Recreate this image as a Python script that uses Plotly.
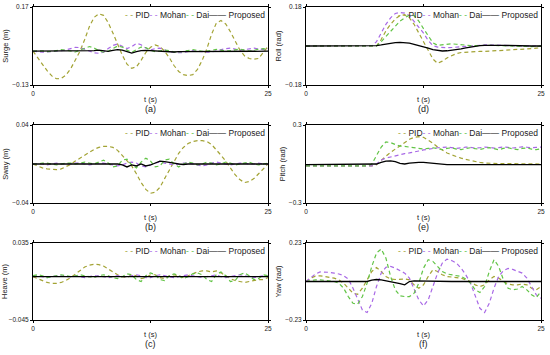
import plotly.graph_objects as go

TIME = [0, 0.5, 1, 1.5, 2, 2.5, 3, 3.5, 4, 4.5, 5, 5.5, 6, 6.5, 7, 7.5, 8, 8.5, 9, 9.5,
        10, 10.5, 11, 11.5, 12, 12.5, 13, 13.5, 14, 14.5, 15, 15.5, 16, 16.5, 17, 17.5,
        18, 18.5, 19, 19.5, 20, 20.5, 21, 21.5, 22, 22.5, 23, 23.5, 24, 24.5, 25]

SERIES = ["PID", "Mohan", "Dai", "Proposed"]

# (a) Surge (m)
surge_pid = [0.000, -0.025, -0.050, -0.075, -0.095, -0.106, -0.105, -0.092, -0.068, -0.035,
             0.000, 0.045, 0.095, 0.130, 0.144, 0.138, 0.110, 0.070, 0.025, -0.015,
             -0.050, -0.066, -0.060, -0.035, -0.005, 0.015, 0.024, 0.018, 0.000, -0.025,
             -0.055, -0.078, -0.090, -0.094, -0.090, -0.070, -0.035, 0.010, 0.065, 0.108,
             0.118, 0.105, 0.075, 0.040, 0.005, -0.018, -0.028, -0.031, -0.028, -0.005, 0.018]
surge_mohan = [0.000, -0.003, -0.004, -0.003, -0.002, 0.000, 0.002, 0.005, 0.010, 0.015,
               0.014, 0.008, 0.000, -0.006, -0.008, -0.004, 0.010, 0.022, 0.028, 0.020,
               0.010, 0.018, 0.030, 0.025, 0.012, 0.005, 0.010, 0.012, 0.006, -0.002,
               -0.004, -0.006, -0.005, -0.002, 0.002, 0.000, -0.002, -0.004, -0.003, 0.002,
               0.006, 0.010, 0.012, 0.008, 0.004, 0.006, 0.010, 0.012, 0.009, 0.006, 0.010]
surge_dai = [0.000, 0.002, 0.001, -0.002, -0.001, 0.003, 0.006, 0.004, 0.000, -0.003,
             0.004, 0.012, 0.018, 0.012, 0.002, -0.004, 0.000, 0.010, 0.020, 0.016,
             0.004, -0.004, 0.006, 0.016, 0.014, 0.004, -0.002, 0.000, 0.004, 0.002,
             -0.003, -0.004, 0.000, 0.004, 0.006, 0.003, -0.001, 0.000, 0.004, 0.007,
             0.004, 0.000, 0.002, 0.006, 0.008, 0.004, 0.000, 0.003, 0.008, 0.010, 0.006]
surge_prop = [0.000, 0.000, 0.000, 0.000, 0.000, 0.000, 0.000, 0.000, 0.000, 0.000,
              0.000, 0.000, 0.000, 0.002, 0.004, 0.002, -0.001, 0.003, 0.006, 0.004,
              -0.003, -0.007, -0.002, 0.002, 0.003, 0.002, 0.001, -0.001, -0.002, -0.003,
              -0.003, -0.002, -0.002, -0.001, 0.000, 0.000, 0.000, 0.000, 0.000, 0.000,
              0.000, 0.000, 0.000, 0.000, 0.000, 0.000, 0.000, 0.000, 0.000, 0.000, 0.000]

# (b) Sway (m)
sway_pid = [0.000, -0.002, -0.004, -0.005, -0.0057, -0.0058, -0.005, -0.003, -0.0005, 0.003,
            0.006, 0.009, 0.012, 0.015, 0.017, 0.018, 0.0182, 0.017, 0.014, 0.009,
            0.004, -0.002, -0.010, -0.019, -0.026, -0.030, -0.029, -0.024, -0.015, -0.006,
            0.003, 0.011, 0.017, 0.021, 0.023, 0.024, 0.024, 0.023, 0.020, 0.015,
            0.009, 0.003, -0.004, -0.011, -0.016, -0.019, -0.018, -0.015, -0.010, -0.005, 0.000]
sway_mohan = [0.000, 0.000, 0.000, -0.001, 0.000, 0.001, 0.000, 0.000, 0.000, 0.001,
              0.001, 0.000, -0.001, 0.000, 0.001, 0.001, 0.000, -0.001, -0.002, -0.001,
              0.001, 0.002, 0.001, -0.002, -0.003, -0.001, 0.001, 0.002, 0.001, 0.000,
              -0.001, 0.000, 0.001, 0.001, 0.000, -0.001, -0.002, -0.001, 0.001, 0.002,
              0.001, 0.000, -0.001, 0.000, 0.001, 0.001, 0.000, 0.000, 0.001, 0.000, 0.000]
sway_dai = [0.000, 0.000, 0.001, 0.001, 0.000, -0.001, 0.000, 0.001, 0.001, 0.000,
            0.001, 0.002, 0.001, 0.000, 0.002, 0.004, 0.001, -0.003, -0.002, 0.004,
            0.005, -0.001, -0.004, 0.002, 0.006, 0.003, -0.003, -0.002, 0.004, 0.005,
            0.000, -0.003, 0.000, 0.002, 0.001, -0.001, 0.000, 0.002, 0.001, -0.001,
            0.000, 0.002, 0.001, -0.001, 0.000, 0.001, 0.002, 0.000, -0.001, 0.000, 0.001]
sway_prop = [0.000, 0.000, 0.000, 0.000, 0.000, 0.000, 0.000, 0.000, 0.000, 0.000,
             0.000, 0.000, 0.000, 0.000, 0.000, 0.000, 0.000, 0.000, 0.000, -0.001,
             -0.003, -0.001, -0.002, 0.000, -0.002, -0.001, 0.001, 0.003, 0.0025, 0.002,
             0.001, 0.000, -0.0005, 0.000, 0.000, 0.000, 0.000, 0.000, 0.000, 0.000,
             0.000, 0.000, 0.000, 0.000, 0.000, 0.000, 0.000, 0.000, 0.000, 0.000, 0.000]

# (c) Heave (m)
heave_pid = [0.000, -0.002, -0.004, -0.006, -0.007, -0.007, -0.006, -0.004, -0.001, 0.003,
             0.007, 0.010, 0.012, 0.013, 0.0125, 0.011, 0.008, 0.005, 0.002, 0.000,
             -0.001, 0.002, 0.001, -0.002, -0.001, 0.002, 0.002, -0.001, -0.002, 0.001,
             0.002, 0.001, -0.001, 0.001, 0.003, 0.005, 0.006, 0.006, 0.005, 0.006,
             0.004, 0.001, -0.002, -0.004, -0.005, -0.006, -0.005, -0.004, -0.003, -0.003, -0.001]
heave_mohan = [0.000, 0.001, 0.000, -0.001, 0.000, 0.001, 0.001, 0.000, 0.000, 0.001,
               0.000, -0.001, 0.000, 0.001, 0.001, 0.000, -0.001, 0.000, 0.001, 0.000,
               0.000, 0.001, 0.002, 0.001, -0.001, -0.001, 0.001, 0.002, 0.001, 0.000,
               -0.001, 0.000, 0.001, 0.002, 0.001, 0.000, -0.001, 0.000, 0.001, 0.002,
               0.000, -0.001, 0.000, 0.001, 0.002, 0.001, 0.000, -0.001, 0.000, 0.001, 0.001]
heave_dai = [0.001, 0.002, 0.001, -0.001, 0.000, 0.001, 0.002, 0.001, 0.000, 0.001,
             0.002, 0.001, 0.000, -0.001, 0.001, 0.002, 0.001, -0.001, -0.002, 0.000,
             0.003, 0.002, -0.003, -0.005, 0.001, 0.004, 0.002, -0.003, -0.004, 0.001,
             0.003, 0.001, -0.002, 0.000, 0.003, 0.004, 0.002, -0.003, -0.005, 0.002,
             0.005, 0.001, -0.005, -0.004, 0.002, 0.004, 0.001, -0.003, -0.002, 0.002, 0.001]
heave_prop = [0.000, 0.000, 0.000, 0.000, 0.000, 0.000, 0.000, 0.000, 0.000, 0.000,
              0.000, 0.000, 0.000, 0.000, 0.000, 0.000, 0.000, 0.000, 0.000, 0.000,
              0.000, 0.000, 0.000, 0.000, 0.000, 0.000, 0.000, 0.000, 0.000, 0.000,
              0.000, 0.000, 0.000, 0.000, 0.000, 0.000, 0.000, 0.000, 0.000, 0.000,
              0.000, 0.000, 0.000, 0.000, 0.000, 0.000, 0.000, 0.000, 0.000, 0.000, 0.000]

# (d) Roll (rad)
roll_pid = [0.000, 0.000, 0.000, 0.000, 0.000, 0.000, 0.000, 0.000, 0.000, 0.000,
            0.000, 0.000, 0.000, 0.000, 0.000, 0.000, 0.030, 0.070, 0.100, 0.125,
            0.140, 0.145, 0.130, 0.100, 0.060, 0.020, -0.020, -0.060, -0.080, -0.070,
            -0.055, -0.045, -0.035, -0.030, -0.028, -0.027, -0.026, -0.025, -0.025, -0.024,
            -0.023, -0.022, -0.021, -0.020, -0.019, -0.018, -0.016, -0.014, -0.012, -0.010, -0.008]
roll_mohan = [0.000, 0.000, 0.000, 0.000, 0.000, 0.000, 0.000, 0.000, 0.000, 0.000,
              0.000, 0.000, 0.000, 0.000, 0.000, 0.020, 0.060, 0.100, 0.130, 0.150,
              0.155, 0.152, 0.140, 0.115, 0.090, 0.060, 0.025, 0.002, -0.005, -0.008,
              -0.008, -0.007, -0.005, -0.003, 0.000, 0.002, 0.004, 0.005, 0.005, 0.005,
              0.004, 0.003, 0.002, 0.001, 0.000, 0.000, -0.001, -0.001, 0.000, 0.000, 0.000]
roll_dai = [0.000, 0.000, 0.000, 0.000, 0.000, 0.000, 0.000, 0.000, 0.000, 0.000,
            0.000, 0.000, 0.000, 0.000, 0.000, 0.000, 0.020, 0.045, 0.070, 0.095,
            0.115, 0.130, 0.142, 0.140, 0.115, 0.080, 0.045, 0.015, 0.003, 0.005,
            0.008, 0.010, 0.008, 0.005, 0.003, 0.002, 0.002, 0.003, 0.004, 0.004,
            0.003, 0.002, 0.001, 0.000, -0.002, -0.003, -0.004, -0.004, -0.003, -0.002, -0.001]
roll_prop = [0.000, 0.000, 0.000, 0.000, 0.000, 0.000, 0.000, 0.000, 0.000, 0.000,
             0.000, 0.000, 0.000, 0.000, 0.000, 0.002, 0.005, 0.009, 0.013, 0.016,
             0.017, 0.016, 0.013, 0.008, 0.003, -0.003, -0.010, -0.017, -0.021, -0.023,
             -0.022, -0.020, -0.017, -0.013, -0.009, -0.005, -0.001, 0.002, 0.003, 0.004,
             0.004, 0.003, 0.003, 0.002, 0.002, 0.001, 0.001, 0.001, 0.000, 0.000, 0.000]

# (e) Pitch (rad)
pitch_pid = [-0.015, -0.015, -0.015, -0.015, -0.015, -0.015, -0.015, -0.015, -0.015, -0.015,
             -0.015, -0.015, -0.015, -0.015, -0.015, -0.005, 0.030, 0.060, 0.090, 0.115,
             0.140, 0.165, 0.190, 0.205, 0.210, 0.205, 0.185, 0.160, 0.130, 0.105,
             0.085, 0.070, 0.055, 0.045, 0.035, 0.026, 0.018, 0.012, 0.008, 0.005,
             0.004, 0.003, 0.003, 0.002, 0.002, 0.002, 0.001, 0.001, 0.001, 0.000, 0.000]
pitch_mohan = [-0.015, -0.015, -0.015, -0.015, -0.015, -0.015, -0.015, -0.015, -0.015, -0.015,
               -0.015, -0.015, -0.015, -0.015, -0.015, 0.000, 0.030, 0.045, 0.055, 0.065,
               0.075, 0.080, 0.085, 0.090, 0.100, 0.108, 0.115, 0.120, 0.125, 0.128,
               0.130, 0.126, 0.120, 0.124, 0.130, 0.128, 0.122, 0.125, 0.130, 0.128,
               0.122, 0.126, 0.131, 0.128, 0.123, 0.127, 0.132, 0.129, 0.124, 0.128, 0.130]
pitch_dai = [-0.015, -0.015, -0.015, -0.015, -0.015, -0.015, -0.015, -0.015, -0.015, -0.015,
             -0.015, -0.015, -0.015, -0.015, 0.000, 0.060, 0.130, 0.170, 0.165, 0.150,
             0.138, 0.135, 0.130, 0.125, 0.120, 0.115, 0.120, 0.125, 0.118, 0.110,
             0.120, 0.125, 0.115, 0.110, 0.120, 0.125, 0.118, 0.112, 0.120, 0.126,
             0.118, 0.110, 0.120, 0.125, 0.116, 0.110, 0.120, 0.124, 0.115, 0.110, 0.118]
pitch_prop = [-0.005, -0.005, -0.005, -0.005, -0.005, -0.005, -0.005, -0.005, -0.005, -0.005,
              -0.005, -0.005, -0.005, -0.005, -0.005, 0.000, 0.012, 0.022, 0.024, 0.018,
              0.005, 0.000, 0.006, 0.011, 0.013, 0.012, 0.008, 0.003, -0.001, -0.004,
              -0.005, -0.005, -0.005, -0.005, -0.005, -0.005, -0.005, -0.005, -0.005, -0.005,
              -0.005, -0.005, -0.005, -0.005, -0.005, -0.005, -0.005, -0.005, -0.005, -0.005, -0.005]

# (f) Yaw (rad)
yaw_pid = [0.000, 0.020, 0.032, 0.034, 0.030, 0.025, 0.020, 0.010, -0.010, -0.040,
           -0.070, -0.076, -0.040, 0.010, 0.060, 0.084, 0.060, 0.030, 0.015, 0.012,
           0.014, 0.015, 0.010, -0.020, -0.040, -0.020, 0.030, 0.070, 0.060, 0.040,
           0.030, 0.028, 0.025, 0.020, 0.010, 0.000, -0.020, -0.030, -0.020, 0.010,
           0.030, 0.020, 0.000, -0.015, -0.020, -0.020, -0.015, -0.020, -0.040, -0.050, -0.030]
yaw_mohan = [0.000, 0.020, 0.045, 0.057, 0.058, 0.055, 0.050, 0.045, 0.035, 0.015,
             -0.040, -0.110, -0.170, -0.185, -0.130, -0.030, 0.050, 0.085, 0.090, 0.080,
             0.065, 0.050, 0.020, -0.040, -0.110, -0.146, -0.110, -0.030, 0.050, 0.110,
             0.134, 0.125, 0.110, 0.080, 0.040, -0.010, -0.090, -0.160, -0.185, -0.130,
             -0.040, 0.030, 0.065, 0.078, 0.072, 0.060, 0.050, 0.020, -0.030, -0.080, -0.100]
yaw_dai = [0.000, 0.005, 0.010, 0.010, 0.008, 0.005, 0.000, -0.010, -0.040, -0.090,
           -0.130, -0.135, -0.090, -0.010, 0.090, 0.170, 0.194, 0.140, 0.030, -0.050,
           -0.085, -0.090, -0.090, -0.070, -0.010, 0.080, 0.130, 0.120, 0.090, 0.060,
           0.045, 0.040, 0.035, 0.030, 0.015, -0.010, -0.050, -0.066, -0.030, 0.060,
           0.130, 0.090, 0.010, -0.040, -0.050, -0.045, -0.030, -0.050, -0.080, -0.096, -0.060]
yaw_prop = [0.000, 0.000, 0.000, 0.000, 0.000, 0.000, 0.000, 0.000, 0.000, 0.000,
            0.000, 0.000, 0.000, 0.000, 0.008, 0.012, 0.010, 0.005, 0.000, -0.005,
            -0.012, -0.020, 0.000, 0.004, 0.003, 0.002, 0.001, 0.000, 0.000, 0.000,
            0.000, 0.000, 0.000, 0.000, 0.000, 0.000, 0.000, 0.000, 0.000, 0.000,
            0.000, 0.000, 0.000, 0.000, 0.000, 0.000, 0.000, 0.000, 0.000, 0.000, 0.000]

PANELS = [
    ("Surge (m)", [-0.13, 0.17], ["\u22120.13", "0.17"], "(a)", [surge_pid, surge_mohan, surge_dai, surge_prop]),
    ("Sway (m)", [-0.04, 0.04], ["\u22120.04", "0.04"], "(b)", [sway_pid, sway_mohan, sway_dai, sway_prop]),
    ("Heave (m)", [-0.045, 0.035], ["\u22120.045", "0.035"], "(c)", [heave_pid, heave_mohan, heave_dai, heave_prop]),
    ("Roll (rad)", [-0.18, 0.18], ["\u22120.18", "0.18"], "(d)", [roll_pid, roll_mohan, roll_dai, roll_prop]),
    ("Pitch (rad)", [-0.3, 0.3], ["\u22120.3", "0.3"], "(e)", [pitch_pid, pitch_mohan, pitch_dai, pitch_prop]),
    ("Yaw (rad)", [-0.23, 0.23], ["\u22120.23", "0.23"], "(f)", [yaw_pid, yaw_mohan, yaw_dai, yaw_prop]),
]

COLORS = {"PID": "#a3a334", "Mohan": "#a868e6", "Dai": "#62c446", "Proposed": "#000000"}

W, H = 550, 355
XDOM = [[33 / W, 268 / W], [306 / W, 541 / W]]
YDOM = [[1 - 85 / H, 1 - 7 / H], [1 - 203 / H, 1 - 125 / H], [1 - 320 / H, 1 - 243 / H]]

FONT = "Arial, Liberation Sans, sans-serif"

fig = go.Figure()
annotations = []
layout = {}
for i, (ytitle, yr, ytext, sub, data) in enumerate(PANELS):
    n = i + 1
    col = 0 if i < 3 else 1
    row = i % 3
    xa = "x" if n == 1 else f"x{n}"
    ya = "y" if n == 1 else f"y{n}"
    for name, vals in zip(SERIES, data):
        if name == "Proposed":
            line = dict(color=COLORS[name], width=1.3)
        else:
            line = dict(color=COLORS[name], width=1.2, dash="4px,3px")
        fig.add_trace(go.Scatter(x=TIME, y=vals, mode="lines", name=name, line=line,
                                 xaxis=xa, yaxis=ya, showlegend=False))
    axis_common = dict(showline=True, linecolor="black", linewidth=1, mirror="ticks",
                       showgrid=False, zeroline=False, ticks="outside", ticklen=2,
                       tickcolor="black", automargin=False,
                       tickfont=dict(size=6.5, color="#222", family=FONT))
    layout["xaxis" if n == 1 else f"xaxis{n}"] = dict(
        domain=XDOM[col], anchor=ya, range=[0, 25], tickvals=[0, 12.5, 25],
        ticktext=["0", "", "25"],
        title=dict(text="t (s)", font=dict(size=7.5, family=FONT, color="#222"), standoff=0),
        **axis_common)
    layout["yaxis" if n == 1 else f"yaxis{n}"] = dict(
        domain=YDOM[row], anchor=xa, range=yr, tickvals=yr, ticktext=ytext,
        title=dict(text=ytitle, font=dict(size=7.5, family=FONT, color="#222"), standoff=2),
        **axis_common)
    legend_text = (f"<span style='color:{COLORS['PID']}'>- - </span>PID"
                   f"<span style='color:{COLORS['Mohan']}'>- - </span>Mohan"
                   f"<span style='color:{COLORS['Dai']}'>- - </span>Dai"
                   f"<span style='color:#000'>\u2014\u2014 </span>Proposed")
    annotations.append(dict(text=legend_text, xref=f"{xa} domain", yref=f"{ya} domain",
                            x=0.995, y=0.985, xanchor="right", yanchor="top", showarrow=False,
                            font=dict(size=8.5, family=FONT, color="#222")))
    annotations.append(dict(text=sub, xref=f"{xa} domain", yref=f"{ya} domain",
                            x=0.5, y=-0.22, xanchor="center", yanchor="top", showarrow=False,
                            font=dict(size=9, family=FONT, color="#222")))

fig.update_layout(
    width=W, height=H, margin=dict(l=0, r=0, t=0, b=0),
    paper_bgcolor="white", plot_bgcolor="white",
    annotations=annotations, showlegend=False, **layout)

fig.write_html("out.html", config={"displayModeBar": False},
               post_script="document.body.style.margin='0';")
